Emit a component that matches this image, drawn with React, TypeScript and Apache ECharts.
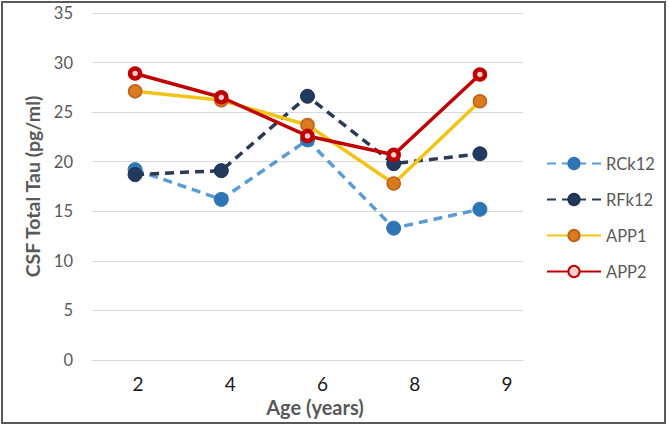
import React, { useEffect, useRef } from "react";
import * as echarts from "echarts";

const categories = ["2", "4", "6", "8", "9"];
const rck12 = [19.2, 16.2, 22.2, 13.3, 15.2];
const rfk12 = [18.7, 19.1, 26.6, 19.8, 20.8];
const app1 = [27.1, 26.2, 23.7, 17.8, 26.1];
const app2 = [28.9, 26.5, 22.6, 20.7, 28.8];
const yTicks = { min: 0, max: 35, interval: 5 };

const FONT = "Lato, 'Open Sans', sans-serif";

export default function App() {
  const ref = useRef<HTMLDivElement>(null);
  useEffect(() => {
    document.body.style.margin = "0";
    const chart = echarts.init(ref.current!, null, { renderer: "svg" });
    chart.setOption({
      animation: false,
      backgroundColor: "#ffffff",
      textStyle: { fontFamily: FONT },
      grid: [
        { left: 92, top: 13, width: 431, height: 347 },
        { left: 92, top: 13, width: 461, height: 347 },
      ],
      legend: {
        orient: "vertical",
        left: 541,
        top: 150,
        itemWidth: 54,
        itemHeight: 14,
        itemGap: 19,
        textStyle: { fontSize: 16.5, lineHeight: 14, color: "#595959", fontFamily: FONT },
        data: ["RCk12", "RFk12", "APP1", "APP2"],
      },
      xAxis: [
        {
          type: "category",
          gridIndex: 0,
          data: categories,
          boundaryGap: true,
          axisLine: { show: true, lineStyle: { color: "#d9d9d9", width: 1 } },
          axisTick: { show: false },
          axisLabel: { show: false },
        },
        {
          type: "category",
          gridIndex: 1,
          data: categories,
          boundaryGap: true,
          axisLine: { show: false },
          axisTick: { show: false },
          axisLabel: { show: true, margin: 14, fontSize: 19, color: "#1a1a1a", fontFamily: FONT },
        },
      ],
      yAxis: [
        {
          type: "value",
          gridIndex: 0,
          min: yTicks.min,
          max: yTicks.max,
          interval: yTicks.interval,
          axisLine: { show: false },
          axisTick: { show: false },
          axisLabel: { margin: 19, fontSize: 16.5, color: "#595959", fontFamily: FONT },
          splitLine: { lineStyle: { color: "#d9d9d9", width: 1 } },
          name: "CSF Total Tau (pg/ml)",
          nameLocation: "middle",
          nameRotate: 90,
          nameGap: 48,
          nameTextStyle: { fontSize: 19.5, fontWeight: "bold", color: "#595959", fontFamily: FONT },
        },
        {
          type: "value",
          gridIndex: 1,
          min: yTicks.min,
          max: yTicks.max,
          show: false,
          splitLine: { show: false },
        },
      ],
      graphic: [
        {
          type: "text",
          x: 315,
          y: 407,
          style: {
            text: "Age (years)",
            fontSize: 20,
            fontWeight: "bold",
            fill: "#595959",
            fontFamily: FONT,
            align: "center",
            verticalAlign: "middle",
          },
        },
        {
          type: "rect",
          shape: { x: 2, y: 2, width: 663, height: 421 },
          style: { fill: "none", stroke: "#595959", lineWidth: 2 },
          silent: true,
        },
      ],
      series: [
        {
          name: "RCk12",
          type: "line",
          data: rck12,
          symbol: "circle",
          symbolSize: 14,
          lineStyle: { color: "#5b9bd5", width: 3.5, type: [9, 6] },
          itemStyle: { color: "#2e75b6", borderColor: "#2e75b6", borderWidth: 1 },
          z: 2,
        },
        {
          name: "RFk12",
          type: "line",
          data: rfk12,
          symbol: "circle",
          symbolSize: 14,
          lineStyle: { color: "#2b3a55", width: 3.5, type: [9, 6] },
          itemStyle: { color: "#223a5e", borderColor: "#1f2f4d", borderWidth: 1 },
          z: 3,
        },
        {
          name: "APP1",
          type: "line",
          data: app1,
          symbol: "circle",
          symbolSize: 13,
          lineStyle: { color: "#f2c317", width: 3.5 },
          itemStyle: { color: "#d97b1e", borderColor: "#c0601a", borderWidth: 1.5 },
          z: 4,
        },
        {
          name: "APP2",
          type: "line",
          data: app2,
          symbol: "circle",
          symbolSize: 10,
          lineStyle: { color: "#c00000", width: 3.5 },
          itemStyle: { color: "#f6d0d0", borderColor: "#c00000", borderWidth: 4.5 },
          z: 5,
        },
      ],
    });
    return () => chart.dispose();
  }, []);
  return <div ref={ref} style={{ width: 669, height: 426 }} />;
}
